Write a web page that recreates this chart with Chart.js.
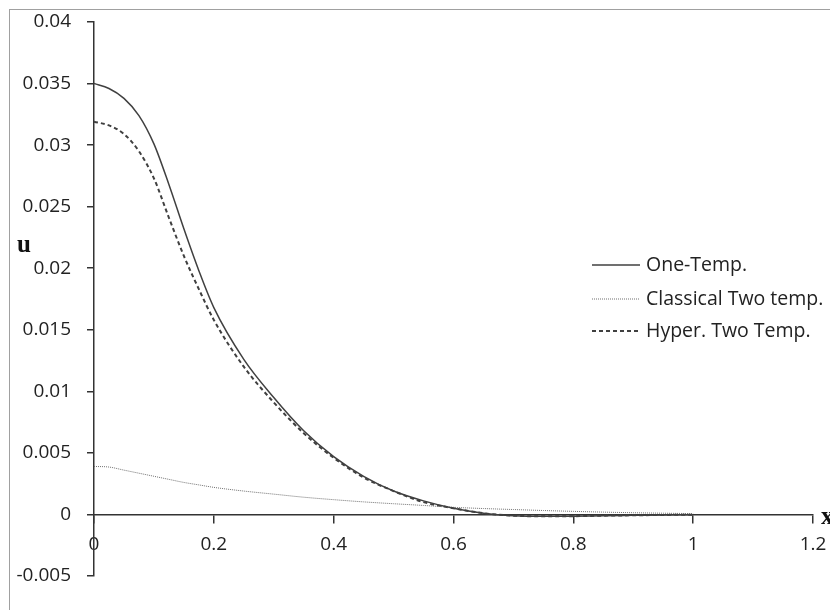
<!DOCTYPE html>
<html>
<head>
<meta charset="utf-8">
<script src="https://cdn.jsdelivr.net/npm/chart.js@4.4.0/dist/chart.umd.min.js"></script>
<style>
  html, body { margin: 0; padding: 0; background: #fff; }
  #wrap { width: 830px; height: 610px; }
</style>
</head>
<body>
<div id="wrap"><canvas id="grafico" width="830" height="610"></canvas></div>
<script>
// Valores
const xValores = [0, 0.025, 0.05, 0.075, 0.1, 0.125, 0.15, 0.175, 0.2, 0.25, 0.3, 0.35, 0.4, 0.45, 0.5,
    0.55, 0.6, 0.65, 0.7, 0.75, 0.8, 0.85, 0.9, 0.95, 1.0];

const oneTemp = [0.0350, 0.0346, 0.0338, 0.0324, 0.0301, 0.0268, 0.0232, 0.0198, 0.0168, 0.0126, 0.0095,
    0.0068, 0.0047, 0.0031, 0.0019, 0.0011, 0.0005, 0.0001, -0.0001, -0.00015, -0.00014, -0.0001,
    -0.00007, -0.00004, -0.00002];

const classicalTwo = [0.0039, 0.00385, 0.0036, 0.00335, 0.0031, 0.00285, 0.0026, 0.0024, 0.0022, 0.0019,
    0.00165, 0.0014, 0.0012, 0.00102, 0.00087, 0.00073, 0.00058, 0.00048, 0.0004, 0.00032, 0.00025,
    0.00019, 0.00014, 0.0001, 0.00007];

const hyperTwo = [0.0319, 0.0316, 0.0309, 0.0295, 0.0273, 0.0241, 0.0210, 0.0183, 0.0158, 0.0120, 0.0091,
    0.0066, 0.0046, 0.0030, 0.0019, 0.0010, 0.0005, 0.0001, -0.0001, -0.00015, -0.00014, -0.0001,
    -0.00007, -0.00004, -0.00002];

const nomesSeries = ['One-Temp.', 'Classical Two temp.', 'Hyper. Two Temp.'];

const yTicks = [-0.005, 0, 0.005, 0.01, 0.015, 0.02, 0.025, 0.03, 0.035, 0.04];
const yTickLabels = ['-0.005', '0', '0.005', '0.01', '0.015', '0.02', '0.025', '0.03', '0.035', '0.04'];
const xTicks = [0, 0.2, 0.4, 0.6, 0.8, 1, 1.2];
const xTickLabels = ['0', '0.2', '0.4', '0.6', '0.8', '1', '1.2'];

const pontos = (ys) => xValores.map((x, i) => ({ x: x, y: ys[i] }));

const corEixo = '#333333';
const fonteTicks = { family: '"Open Sans", "DejaVu Sans", sans-serif', size: 19 };

// legenda desenhada à mão, dentro da área do gráfico
const legendaPlugin = {
    id: 'legendaManual',
    afterDraw(chart) {
        const ctx = chart.ctx;
        const linhasY = [265, 299, 331];
        ctx.save();
        chart.data.datasets.forEach((ds, i) => {
            const y = linhasY[i];
            ctx.beginPath();
            ctx.setLineDash(ds.borderDash || []);
            ctx.strokeStyle = ds.borderColor;
            ctx.lineWidth = ds.borderWidth;
            ctx.moveTo(592, y);
            ctx.lineTo(640, y);
            ctx.stroke();
            ctx.setLineDash([]);
            ctx.fillStyle = '#222';
            ctx.font = '19.5px "Open Sans", sans-serif';
            ctx.textBaseline = 'middle';
            ctx.textAlign = 'left';
            ctx.fillText(ds.label, 646, y);
        });
        // títulos dos eixos
        ctx.font = 'bold 25px "Liberation Serif", serif';
        ctx.fillStyle = '#111';
        ctx.textBaseline = 'alphabetic';
        ctx.fillText('u', 17, 252);
        ctx.fillText('x', 821, 524);
        // moldura
        ctx.strokeStyle = '#a0a0a0';
        ctx.lineWidth = 1;
        ctx.strokeRect(9.5, 9.5, 900, 900);
        ctx.restore();
    }
};

const ctxGrafico = document.getElementById('grafico').getContext('2d');
const grafico = new Chart(ctxGrafico, {
    type: 'line',
    data: {
        datasets: [
            {
                label: nomesSeries[0],
                data: pontos(oneTemp),
                borderColor: '#404040',
                borderWidth: 1.5,
                pointRadius: 0,
                cubicInterpolationMode: 'monotone'
            },
            {
                label: nomesSeries[1],
                data: pontos(classicalTwo),
                borderColor: '#707070',
                borderWidth: 1,
                borderDash: [1, 1],
                pointRadius: 0,
                cubicInterpolationMode: 'monotone'
            },
            {
                label: nomesSeries[2],
                data: pontos(hyperTwo),
                borderColor: '#404040',
                borderWidth: 2,
                borderDash: [4, 3],
                pointRadius: 0,
                cubicInterpolationMode: 'monotone'
            }
        ]
    },
    options: {
        responsive: false,
        animation: false,
        layout: { padding: { top: 22, bottom: 34, right: 17, left: 0 } },
        plugins: {
            legend: { display: false },
            tooltip: { enabled: false }
        },
        scales: {
            x: {
                type: 'linear',
                min: 0,
                max: 1.2,
                position: { y: 0 },
                afterFit: (s) => { s.paddingLeft = 0; s.paddingRight = 0; },
                afterBuildTicks: (s) => { s.ticks = xTicks.map(v => ({ value: v })); },
                ticks: {
                    color: '#222',
                    font: fonteTicks,
                    padding: 11,
                    maxRotation: 0,
                    callback: (v, i) => xTickLabels[i]
                },
                grid: { drawOnChartArea: false, drawTicks: true, tickLength: 8, color: corEixo, lineWidth: 1.5 },
                border: { display: true, color: corEixo, width: 1.5 }
            },
            y: {
                type: 'linear',
                min: -0.005,
                max: 0.04,
                afterFit: (s) => { s.width = 94; s.paddingTop = 0; s.paddingBottom = 0; },
                afterBuildTicks: (s) => { s.ticks = yTicks.map(v => ({ value: v })); },
                ticks: {
                    color: '#222',
                    font: fonteTicks,
                    padding: 16,
                    callback: (v, i) => yTickLabels[i]
                },
                grid: { drawOnChartArea: false, drawTicks: true, tickLength: 7, color: corEixo, lineWidth: 1.5 },
                border: { display: true, color: corEixo, width: 1.5 }
            }
        }
    },
    plugins: [legendaPlugin]
});
</script>
</body>
</html>
